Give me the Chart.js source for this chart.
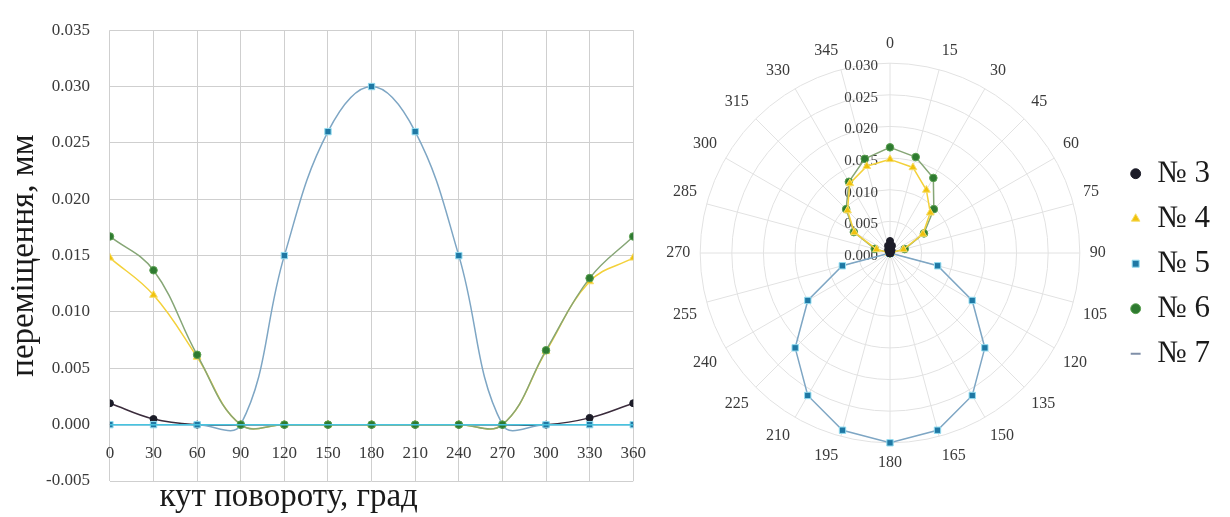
<!DOCTYPE html>
<html>
<head>
<meta charset="utf-8">
<title>Переміщення</title>
<script src="https://cdn.jsdelivr.net/npm/chart.js@4"></script>
<style>
  html, body { margin: 0; padding: 0; background: #fff; }
  #wrap { position: relative; width: 1230px; height: 517px; }
  #lineChart { position: absolute; left: 0; top: 0; }
  #polarChart { position: absolute; left: 655px; top: 0; }
</style>
</head>
<body>
<div id="wrap">
  <canvas id="lineChart" width="665" height="517"></canvas>
  <canvas id="polarChart" width="575" height="517"></canvas>
</div>
<script>
// series names
const names = ['№ 3', '№ 4', '№ 5', '№ 6', '№ 7'];

// left chart: angle of rotation, 30 deg step
const angles = [0, 30, 60, 90, 120, 150, 180, 210, 240, 270, 300, 330, 360];
const line3 = [0.0019, 0.0005, 0, 0, 0, 0, 0, 0, 0, 0, 0, 0.0006, 0.0019];
const line4 = [0.0148, 0.0115, 0.0060, 0, 0, 0, 0, 0, 0, 0, 0.0065, 0.0127, 0.0148];
const line5 = [0, 0, 0, 0, 0.0150, 0.0260, 0.0300, 0.0260, 0.0150, 0, 0, 0, 0];
const line6 = [0.0167, 0.0137, 0.0062, 0, 0, 0, 0, 0, 0, 0, 0.0066, 0.0130, 0.0167];
const line7 = [0, 0, 0, 0, 0, 0, 0, 0, 0, 0, 0, 0, 0];

// right chart: polar, 15 deg step
const polarAngles = ['0', '15', '30', '45', '60', '75', '90', '105', '120', '135', '150', '165',
  '180', '195', '210', '225', '240', '255', '270', '285', '300', '315', '330', '345'];
const polar3 = [0.0019, 0.0012, 0.0005, 0.0002, 0, 0, 0, 0, 0, 0, 0, 0,
  0, 0, 0, 0, 0, 0, 0, 0, 0, 0.0002, 0.0006, 0.0012];
const polar4 = [0.0148, 0.0140, 0.0115, 0.0090, 0.0060, 0.0022, 0, 0, 0, 0, 0, 0,
  0, 0, 0, 0, 0, 0, 0, 0.0022, 0.0065, 0.0095, 0.0127, 0.0142];
const polar5 = [0, 0, 0, 0, 0, 0, 0, 0.0078, 0.0150, 0.0212, 0.0260, 0.0290,
  0.0300, 0.0290, 0.0260, 0.0212, 0.0150, 0.0078, 0, 0, 0, 0, 0, 0];
const polar6 = [0.0167, 0.0157, 0.0137, 0.0098, 0.0062, 0.0024, 0, 0, 0, 0, 0, 0,
  0, 0, 0, 0, 0, 0, 0, 0.0025, 0.0066, 0.0098, 0.0130, 0.0154];
const polar7 = [0, 0, 0, 0, 0, 0, 0, 0, 0, 0, 0, 0,
  0, 0, 0, 0, 0, 0, 0, 0, 0, 0, 0, 0];

const serif = '"Liberation Serif", "Times New Roman", serif';
const gridColor = '#cfcfcf';
const textColor = '#3a3a3a';

// look of each series (same order as names)
const looks = [
  { line: '#3b2c3c', point: '#1c1c28', edge: '#1c1c28', style: 'circle', radius: 3.5 },
  { line: '#f3d13a', point: '#f0c20c', edge: '#f7dd6a', style: 'triangle', radius: 4.5 },
  { line: '#7ea6c4', point: '#1f78a4', edge: '#93dcf0', style: 'rect', radius: 4.5 },
  { line: '#86a676', point: '#2e7a30', edge: '#5aa050', style: 'circle', radius: 3.8 },
  { line: '#47c4e0', point: '#7f8fa8', edge: '#7f8fa8', style: 'line', radius: 0 }
];

const lineSeries = [line3, line4, line5, line6, line7];
const polarSeries = [polar3, polar4, polar5, polar6, polar7];

new Chart(document.getElementById('lineChart'), {
  type: 'line',
  data: {
    datasets: lineSeries.map((vals, i) => ({
      label: names[i],
      data: vals.map((v, k) => ({ x: angles[k], y: v })),
      borderColor: looks[i].line,
      borderWidth: 1.5,
      pointStyle: looks[i].style,
      pointRadius: looks[i].radius,
      pointBackgroundColor: looks[i].point,
      pointBorderColor: looks[i].edge,
      pointBorderWidth: 1,
      tension: 0.4,
      fill: false
    })).reverse()
  },
  options: {
    responsive: false,
    animation: false,
    layout: { padding: { top: 29, left: 0, right: 12, bottom: 3 } },
    plugins: { legend: { display: false }, tooltip: { enabled: false } },
    scales: {
      x: {
        type: 'linear', min: 0, max: 360,
        position: { y: 0 },
        ticks: { stepSize: 30, padding: 19, maxRotation: 0, color: textColor, font: { family: serif, size: 17 } },
        grid: { color: gridColor, drawTicks: false },
        border: { display: true, color: '#bdbdbd' }
      },
      x2: {
        type: 'linear', min: 0, max: 360, position: 'bottom',
        ticks: { display: false },
        grid: { display: false, drawTicks: false },
        border: { display: false },
        title: {
          display: true, align: 'start',
          text: '      кут повороту, град',
          color: '#1a1a1a', font: { family: serif, size: 33, lineHeight: 1 },
          padding: { top: 0, bottom: 0 }
        }
      },
      y: {
        min: -0.005, max: 0.035,
        // tick padding is counted on both sides of the labels, take the outer half back
        afterFit: scale => { scale.width -= 15; },
        ticks: { stepSize: 0.005, padding: 20, color: textColor, font: { family: serif, size: 17 },
          callback: v => v.toFixed(3) },
        grid: { color: gridColor, drawTicks: false },
        border: { display: false },
        title: {
          display: true, text: 'переміщення, мм',
          color: '#1a1a1a', font: { family: serif, size: 33, lineHeight: 1 },
          padding: { top: 8, bottom: 0 }
        }
      }
    }
  }
});

// radial tick labels sit left of the vertical axis, under the data
const radialTicks = {
  id: 'radialTicks',
  beforeDatasetsDraw(chart) {
    const r = chart.scales.r;
    const ctx = chart.ctx;
    ctx.save();
    ctx.font = '15px ' + serif;
    ctx.fillStyle = textColor;
    ctx.textAlign = 'right';
    ctx.textBaseline = 'middle';
    r.ticks.forEach(t => {
      const y = r.yCenter - r.getDistanceFromCenterForValue(t.value);
      ctx.fillText(Number(t.value).toFixed(3), r.xCenter - 12, y + 3);
    });
    ctx.restore();
  }
};

new Chart(document.getElementById('polarChart'), {
  type: 'radar',
  data: {
    labels: polarAngles,
    datasets: polarSeries.map((vals, i) => ({
      label: names[i],
      data: vals,
      borderColor: looks[i].line,
      borderWidth: 1.5,
      pointStyle: looks[i].style,
      pointRadius: looks[i].radius,
      pointBackgroundColor: looks[i].point,
      pointBorderColor: looks[i].edge,
      pointBorderWidth: i === 4 ? 2 : 1,
      fill: false
    }))
  },
  options: {
    responsive: false,
    animation: false,
    layout: { padding: { top: 34, bottom: 44, left: 4, right: 10 } },
    plugins: {
      tooltip: { enabled: false },
      legend: {
        position: 'right',
        title: { display: true, text: ' ', padding: 3, font: { size: 12 } },
        labels: {
          usePointStyle: true, boxWidth: 12, boxHeight: 7, padding: 14,
          color: '#1a1a1a', font: { family: serif, size: 31 }
        }
      }
    },
    scales: {
      r: {
        min: 0, max: 0.030,
        ticks: { stepSize: 0.005, display: false },
        grid: { circular: true, color: '#e2e2e2' },
        angleLines: { color: '#e2e2e2' },
        pointLabels: { color: textColor, padding: 10, font: { family: serif, size: 16 } }
      }
    }
  },
  plugins: [radialTicks]
});
</script>
</body>
</html>
